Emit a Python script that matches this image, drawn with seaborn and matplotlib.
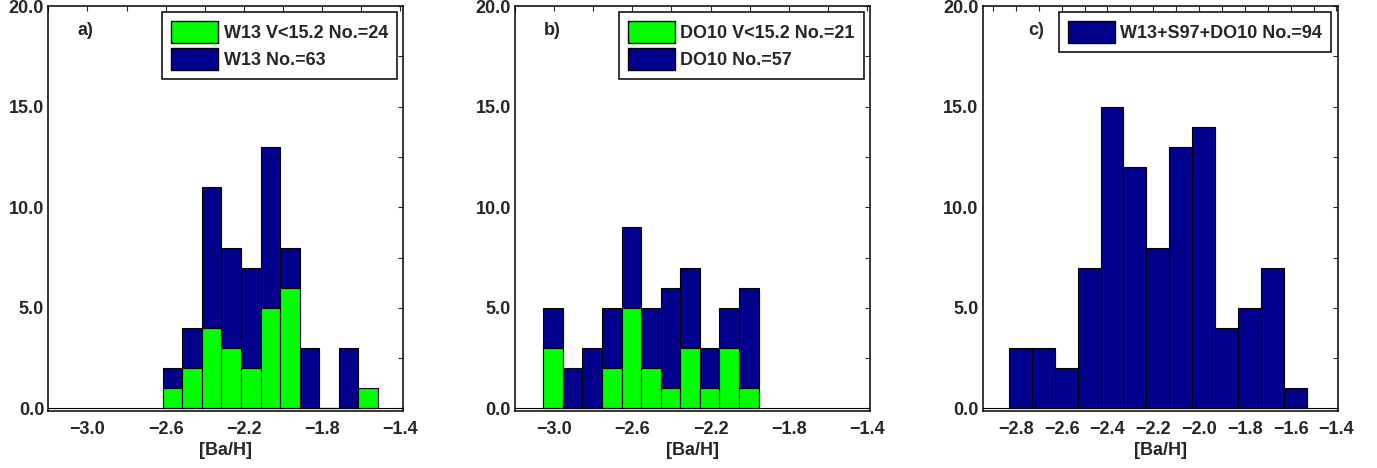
"""
[Ba/H] histograms for three samples (W13, DO10, combined).
"""

import matplotlib
matplotlib.use('Agg')
import matplotlib.pyplot as plt
from matplotlib.patches import Patch
from matplotlib.ticker import MultipleLocator, FixedLocator, FuncFormatter
import seaborn as sns
import numpy as np
import pandas as pd

# Panel a) W13: bin left edges start at -2.615, width 0.1
a_start = -2.615
a_all = [2, 4, 11, 8, 7, 13, 8, 3, 0, 3, 0]
a_bright = [1, 2, 4, 3, 2, 5, 6, 0, 0, 0, 1]

# Panel b) DO10
b_start = -3.055
b_all = [5, 2, 3, 5, 9, 5, 6, 7, 3, 5, 6]
b_bright = [3, 0, 0, 2, 5, 2, 1, 3, 1, 3, 1]

# Panel c) W13+S97+DO10
c_start = -2.83
c_all = [3, 3, 2, 7, 15, 12, 8, 13, 14, 4, 5, 7, 1]

bin_width = 0.1

ticks_ab = [-3.0, -2.6, -2.2, -1.8, -1.4]
ticks_c = [-2.8, -2.6, -2.4, -2.2, -2.0, -1.8, -1.6, -1.4]

labels_a = ['W13 V<15.2 No.=24', 'W13 No.=63']
labels_b = ['DO10 V<15.2 No.=21', 'DO10 No.=57']
labels_c = ['W13+S97+DO10 No.=94']

GREEN = '#00ff00'
NAVY = '#00008c'
FS = 13

sns.set_style('white')
plt.rcParams['font.family'] = ['Liberation Sans', 'DejaVu Sans']
plt.rcParams['font.weight'] = 'bold'
plt.rcParams['font.size'] = FS

fmt = FuncFormatter(lambda v, p: f'{v:.1f}'.replace('-', '\u2212'))


def hist(ax, start, counts, color):
    n = len(counts)
    edges = start + bin_width * np.arange(n + 1)
    df = pd.DataFrame({'ba': edges[:-1] + bin_width / 2, 'n': counts})
    # list, not array: seaborn compares bins to "auto"
    sns.histplot(data=df, x='ba', weights='n', bins=edges.tolist(), ax=ax,
                 color=color, edgecolor='black', linewidth=0.8, alpha=1)


def style(ax, xlim, xticks, xminor, tag, handles, labels, tag_x):
    ax.set_xlim(*xlim)
    ax.set_ylim(-0.12, 20)
    ax.axhline(0, color='black', lw=0.8)
    ax.xaxis.set_major_locator(FixedLocator(xticks))
    ax.xaxis.set_minor_locator(MultipleLocator(xminor))
    ax.yaxis.set_major_locator(MultipleLocator(5))
    ax.yaxis.set_minor_locator(MultipleLocator(2.5))
    ax.xaxis.set_major_formatter(fmt)
    ax.yaxis.set_major_formatter(fmt)
    ax.tick_params(which='both', direction='in', top=True, right=True,
                   length=3.5, width=0.8, labelsize=FS)
    ax.tick_params(axis='x', pad=7)
    ax.tick_params(axis='y', pad=3)
    for lab in ax.get_xticklabels() + ax.get_yticklabels():
        lab.set_fontweight('bold')
    for s in ax.spines.values():
        s.set_linewidth(1.1)
        s.set_color('black')
    ax.set_xlabel('[Ba/H]', fontsize=FS, fontweight='bold', labelpad=3.5)
    ax.set_ylabel('')
    ax.text(tag_x, 0.94, tag, transform=ax.transAxes, fontsize=FS,
            fontweight='bold', ha='center', va='center')
    leg = ax.legend(handles, labels, loc='upper right', fontsize=FS,
                    frameon=True, fancybox=False, framealpha=1,
                    edgecolor='black', handlelength=2.6, handleheight=1.45,
                    borderaxespad=0.35, borderpad=0.5, labelspacing=0.3,
                    handletextpad=0.3)
    leg.get_frame().set_linewidth(1.1)
    for t in leg.get_texts():
        t.set_fontweight('bold')


fig = plt.figure(figsize=(13.77, 4.68), dpi=100)
ax_a = fig.add_axes([0.0351, 0.122, 0.2578, 0.865])
ax_b = fig.add_axes([0.3740, 0.122, 0.2578, 0.865])
ax_c = fig.add_axes([0.7136, 0.122, 0.2578, 0.865])

hist(ax_a, a_start, a_all, NAVY)
hist(ax_a, a_start, a_bright, GREEN)
style(ax_a, (-3.2, -1.385), ticks_ab, 0.2, 'a)',
      [Patch(facecolor=GREEN, edgecolor='black'), Patch(facecolor=NAVY, edgecolor='black')],
      labels_a, 0.105)

hist(ax_b, b_start, b_all, NAVY)
hist(ax_b, b_start, b_bright, GREEN)
style(ax_b, (-3.2, -1.385), ticks_ab, 0.2, 'b)',
      [Patch(facecolor=GREEN, edgecolor='black'), Patch(facecolor=NAVY, edgecolor='black')],
      labels_b, 0.105)

hist(ax_c, c_start, c_all, NAVY)
style(ax_c, (-2.945, -1.395), ticks_c, 0.1, 'c)',
      [Patch(facecolor=NAVY, edgecolor='black')],
      labels_c, 0.15)

fig.savefig('out.png', dpi=100)
plt.close(fig)
